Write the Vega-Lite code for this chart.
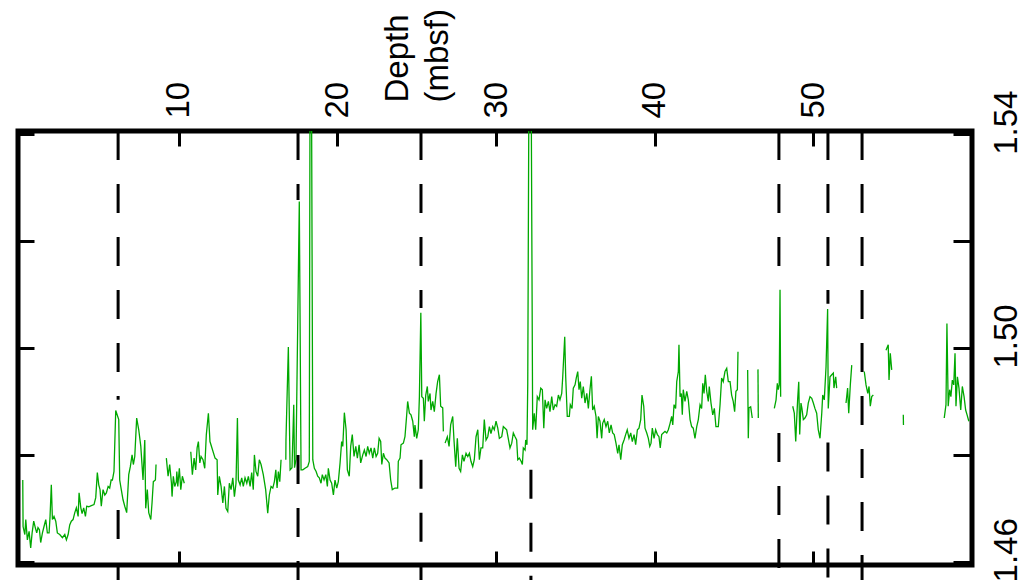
{
  "$schema": "https://vega.github.io/schema/vega-lite/v6.json",
  "width": 954,
  "height": 434,
  "autosize": {"type": "none"},
  "padding": {"left": 18, "top": 131, "right": 46, "bottom": 15},
  "background": "white",
  "config": {
    "view": {"stroke": "black", "strokeWidth": 5},
    "axis": {"labelFont": "Liberation Sans", "titleFont": "Liberation Sans", "labelColor": "black", "titleColor": "black", "tickColor": "black", "domain": false, "grid": false, "labelFontSize": 33, "titleFontSize": 33, "titleFontWeight": "normal", "tickWidth": 3}
  },
  "datasets": {
    "bounds": [
      {"depth": 6.18, "top": 1.5406, "bottom": 1.4903},
      {"depth": 17.52, "top": 1.5406, "bottom": 1.5277},
      {"depth": 25.27, "top": 1.5406, "bottom": 1.5075},
      {"depth": 47.83, "top": 1.5406, "bottom": 1.5109},
      {"depth": 50.92, "top": 1.5406, "bottom": 1.5083},
      {"depth": 53.07, "top": 1.5406, "bottom": 1.4566},
      {"depth": 6.18, "top": 1.4697, "bottom": 1.4566},
      {"depth": 17.52, "top": 1.4800, "bottom": 1.4566},
      {"depth": 25.27, "top": 1.4791, "bottom": 1.4566},
      {"depth": 32.2, "top": 1.4772, "bottom": 1.4566},
      {"depth": 47.83, "top": 1.4841, "bottom": 1.4566},
      {"depth": 50.92, "top": 1.4823, "bottom": 1.4566}
    ],
    "log": [
      {"d":0.17,"v":1.4753,"s":1},{"d":0.19,"v":1.4666,"s":1},{"d":0.30,"v":1.4651,"s":1},{"d":0.36,"v":1.4679,"s":1},{"d":0.46,"v":1.4641,"s":1},{"d":0.57,"v":1.4657,"s":1},{"d":0.67,"v":1.4626,"s":1},{"d":0.76,"v":1.4654,"s":1},{"d":0.86,"v":1.4676,"s":1},{"d":0.96,"v":1.4664,"s":1},{"d":1.05,"v":1.4654,"s":1},{"d":1.13,"v":1.4664,"s":1},{"d":1.22,"v":1.4660,"s":1},{"d":1.30,"v":1.4636,"s":1},{"d":1.41,"v":1.4654,"s":1},{"d":1.51,"v":1.4666,"s":1},{"d":1.62,"v":1.4679,"s":1},{"d":1.72,"v":1.4654,"s":1},{"d":1.83,"v":1.4654,"s":1},{"d":1.89,"v":1.4685,"s":1},{"d":1.97,"v":1.4744,"s":1},{"d":2.04,"v":1.4679,"s":1},{"d":2.14,"v":1.4685,"s":1},{"d":2.25,"v":1.4676,"s":1},{"d":2.35,"v":1.4654,"s":1},{"d":2.50,"v":1.4651,"s":1},{"d":2.67,"v":1.4645,"s":1},{"d":2.82,"v":1.4651,"s":1},{"d":2.92,"v":1.4641,"s":1},{"d":3.03,"v":1.4651,"s":1},{"d":3.13,"v":1.4669,"s":1},{"d":3.23,"v":1.4676,"s":1},{"d":3.34,"v":1.4679,"s":1},{"d":3.45,"v":1.4692,"s":1},{"d":3.55,"v":1.4701,"s":1},{"d":3.66,"v":1.4685,"s":1},{"d":3.72,"v":1.4729,"s":1},{"d":3.83,"v":1.4701,"s":1},{"d":3.91,"v":1.4690,"s":1},{"d":4.01,"v":1.4701,"s":1},{"d":4.12,"v":1.4685,"s":1},{"d":4.20,"v":1.4704,"s":1},{"d":4.33,"v":1.4703,"s":1},{"d":4.49,"v":1.4705,"s":1},{"d":4.66,"v":1.4707,"s":1},{"d":4.77,"v":1.4720,"s":1},{"d":4.87,"v":1.4767,"s":1},{"d":4.96,"v":1.4744,"s":1},{"d":5.04,"v":1.4735,"s":1},{"d":5.12,"v":1.4704,"s":1},{"d":5.23,"v":1.4735,"s":1},{"d":5.34,"v":1.4725,"s":1},{"d":5.44,"v":1.4729,"s":1},{"d":5.55,"v":1.4741,"s":1},{"d":5.65,"v":1.4738,"s":1},{"d":5.74,"v":1.4753,"s":1},{"d":5.82,"v":1.4753,"s":1},{"d":5.92,"v":1.4769,"s":1},{"d":6.03,"v":1.4883,"s":1},{"d":6.22,"v":1.4866,"s":1},{"d":6.28,"v":1.4753,"s":1},{"d":6.38,"v":1.4735,"s":1},{"d":6.49,"v":1.4716,"s":1},{"d":6.60,"v":1.4704,"s":1},{"d":6.72,"v":1.4692,"s":1},{"d":6.85,"v":1.4763,"s":1},{"d":6.95,"v":1.4778,"s":1},{"d":7.06,"v":1.4800,"s":1},{"d":7.14,"v":1.4782,"s":1},{"d":7.23,"v":1.4797,"s":1},{"d":7.35,"v":1.4869,"s":1},{"d":7.48,"v":1.4847,"s":1},{"d":7.61,"v":1.4816,"s":1},{"d":7.75,"v":1.4753,"s":1},{"d":7.86,"v":1.4828,"s":1},{"d":7.92,"v":1.4700,"s":1},{"d":8.02,"v":1.4735,"s":1},{"d":8.11,"v":1.4692,"s":1},{"d":8.24,"v":1.4679,"s":1},{"d":8.32,"v":1.4711,"s":1},{"d":8.40,"v":1.4750,"s":1},{"d":8.53,"v":1.4753,"s":1},{"d":8.57,"v":1.4782,"s":1},
      {"d":9.22,"v":1.4794,"s":2},{"d":9.33,"v":1.4760,"s":2},{"d":9.43,"v":1.4782,"s":2},{"d":9.54,"v":1.4748,"s":2},{"d":9.58,"v":1.4722,"s":2},{"d":9.66,"v":1.4760,"s":2},{"d":9.75,"v":1.4741,"s":2},{"d":9.85,"v":1.4750,"s":2},{"d":9.88,"v":1.4769,"s":2},{"d":9.94,"v":1.4741,"s":2},{"d":10.04,"v":1.4775,"s":2},{"d":10.13,"v":1.4735,"s":2},{"d":10.23,"v":1.4760,"s":2},{"d":10.35,"v":1.4747,"s":2},
      {"d":10.76,"v":1.4806,"s":3},{"d":10.86,"v":1.4763,"s":3},{"d":10.97,"v":1.4794,"s":3},{"d":11.07,"v":1.4772,"s":3},{"d":11.16,"v":1.4813,"s":3},{"d":11.24,"v":1.4825,"s":3},{"d":11.33,"v":1.4785,"s":3},{"d":11.41,"v":1.4797,"s":3},{"d":11.53,"v":1.4791,"s":3},{"d":11.64,"v":1.4775,"s":3},{"d":11.74,"v":1.4838,"s":3},{"d":11.87,"v":1.4878,"s":3},{"d":11.97,"v":1.4825,"s":3},{"d":12.29,"v":1.4794,"s":3},{"d":12.42,"v":1.4791,"s":3},{"d":12.46,"v":1.4725,"s":3},{"d":12.56,"v":1.4760,"s":3},{"d":12.67,"v":1.4741,"s":3},{"d":12.78,"v":1.4710,"s":3},{"d":12.88,"v":1.4741,"s":3},{"d":12.98,"v":1.4700,"s":3},{"d":13.09,"v":1.4694,"s":3},{"d":13.19,"v":1.4747,"s":3},{"d":13.30,"v":1.4735,"s":3},{"d":13.41,"v":1.4757,"s":3},{"d":13.51,"v":1.4722,"s":3},{"d":13.61,"v":1.4747,"s":3},{"d":13.70,"v":1.4869,"s":3},{"d":13.76,"v":1.4753,"s":3},{"d":13.87,"v":1.4744,"s":3},{"d":13.97,"v":1.4757,"s":3},{"d":14.07,"v":1.4741,"s":3},{"d":14.18,"v":1.4757,"s":3},{"d":14.29,"v":1.4747,"s":3},{"d":14.39,"v":1.4760,"s":3},{"d":14.50,"v":1.4741,"s":3},{"d":14.60,"v":1.4767,"s":3},{"d":14.70,"v":1.4735,"s":3},{"d":14.77,"v":1.4800,"s":3},{"d":14.87,"v":1.4769,"s":3},{"d":14.98,"v":1.4760,"s":3},{"d":15.08,"v":1.4791,"s":3},{"d":15.19,"v":1.4782,"s":3},{"d":15.33,"v":1.4763,"s":3},{"d":15.48,"v":1.4735,"s":3},{"d":15.61,"v":1.4691,"s":3},{"d":15.71,"v":1.4725,"s":3},{"d":15.82,"v":1.4741,"s":3},{"d":15.93,"v":1.4738,"s":3},{"d":16.03,"v":1.4750,"s":3},{"d":16.12,"v":1.4772,"s":3},{"d":16.20,"v":1.4738,"s":3},{"d":16.28,"v":1.4769,"s":3},{"d":16.37,"v":1.4750,"s":3},{"d":16.45,"v":1.4791,"s":3},
      {"d":16.75,"v":1.4791,"s":4},{"d":16.76,"v":1.4828,"s":4},{"d":16.91,"v":1.5002,"s":4},{"d":17.02,"v":1.4772,"s":4},{"d":17.14,"v":1.4776,"s":4},{"d":17.25,"v":1.4894,"s":4},{"d":17.30,"v":1.4776,"s":4},{"d":17.39,"v":1.4791,"s":4},{"d":17.60,"v":1.5274,"s":4},{"d":17.71,"v":1.4772,"s":4},{"d":17.82,"v":1.4772,"s":4},{"d":17.96,"v":1.4775,"s":4},{"d":18.13,"v":1.4778,"s":4},{"d":18.23,"v":1.4788,"s":4},{"d":18.31,"v":1.6,"s":4},{"d":18.45,"v":1.4791,"s":4},{"d":18.55,"v":1.4775,"s":4},{"d":18.66,"v":1.4769,"s":4},{"d":18.76,"v":1.4760,"s":4},{"d":18.86,"v":1.4757,"s":4},{"d":18.97,"v":1.4747,"s":4},{"d":19.05,"v":1.4763,"s":4},{"d":19.16,"v":1.4753,"s":4},{"d":19.27,"v":1.4763,"s":4},{"d":19.37,"v":1.4741,"s":4},{"d":19.43,"v":1.4775,"s":4},{"d":19.54,"v":1.4753,"s":4},{"d":19.64,"v":1.4747,"s":4},{"d":19.75,"v":1.4725,"s":4},{"d":19.85,"v":1.4753,"s":4},{"d":19.96,"v":1.4738,"s":4},{"d":20.06,"v":1.4750,"s":4},{"d":20.17,"v":1.4785,"s":4},{"d":20.27,"v":1.4825,"s":4},{"d":20.34,"v":1.4816,"s":4},{"d":20.44,"v":1.4879,"s":4},{"d":20.55,"v":1.4847,"s":4},{"d":20.63,"v":1.4772,"s":4},{"d":20.75,"v":1.4760,"s":4},{"d":20.84,"v":1.4816,"s":4},{"d":20.94,"v":1.4838,"s":4},{"d":21.05,"v":1.4797,"s":4},{"d":21.16,"v":1.4816,"s":4},{"d":21.26,"v":1.4794,"s":4},{"d":21.37,"v":1.4819,"s":4},{"d":21.47,"v":1.4785,"s":4},{"d":21.60,"v":1.4800,"s":4},{"d":21.70,"v":1.4809,"s":4},{"d":21.81,"v":1.4797,"s":4},{"d":21.91,"v":1.4816,"s":4},{"d":22.01,"v":1.4803,"s":4},{"d":22.12,"v":1.4813,"s":4},{"d":22.23,"v":1.4794,"s":4},{"d":22.33,"v":1.4813,"s":4},{"d":22.44,"v":1.4797,"s":4},{"d":22.54,"v":1.4803,"s":4},{"d":22.63,"v":1.4831,"s":4},{"d":22.73,"v":1.4825,"s":4},{"d":22.80,"v":1.4782,"s":4},{"d":22.90,"v":1.4803,"s":4},{"d":23.00,"v":1.4794,"s":4},{"d":23.11,"v":1.4791,"s":4},{"d":23.26,"v":1.4785,"s":4},{"d":23.36,"v":1.4753,"s":4},{"d":23.46,"v":1.4735,"s":4},{"d":23.63,"v":1.4738,"s":4},{"d":23.80,"v":1.4738,"s":4},{"d":23.84,"v":1.4788,"s":4},{"d":23.95,"v":1.4794,"s":4},{"d":24.01,"v":1.4819,"s":4},{"d":24.16,"v":1.4822,"s":4},{"d":24.26,"v":1.4834,"s":4},{"d":24.37,"v":1.4875,"s":4},{"d":24.43,"v":1.4900,"s":4},{"d":24.54,"v":1.4878,"s":4},{"d":24.64,"v":1.4875,"s":4},{"d":24.75,"v":1.4863,"s":4},{"d":24.85,"v":1.4834,"s":4},{"d":24.89,"v":1.4856,"s":4},{"d":25.00,"v":1.4831,"s":4},{"d":25.10,"v":1.4847,"s":4},{"d":25.17,"v":1.4909,"s":4},{"d":25.26,"v":1.5066,"s":4},{"d":25.32,"v":1.4909,"s":4},{"d":25.42,"v":1.4906,"s":4},{"d":25.48,"v":1.4863,"s":4},{"d":25.57,"v":1.4912,"s":4},{"d":25.67,"v":1.4928,"s":4},{"d":25.73,"v":1.4900,"s":4},{"d":25.84,"v":1.4915,"s":4},{"d":25.90,"v":1.4884,"s":4},{"d":26.01,"v":1.4900,"s":4},{"d":26.11,"v":1.4881,"s":4},{"d":26.22,"v":1.4915,"s":4},{"d":26.32,"v":1.4937,"s":4},{"d":26.43,"v":1.4950,"s":4},{"d":26.51,"v":1.4891,"s":4},{"d":26.64,"v":1.4888,"s":4},{"d":26.68,"v":1.4844,"s":4},
      {"d":26.79,"v":1.4822,"s":5},{"d":26.93,"v":1.4834,"s":5},{"d":27.04,"v":1.4816,"s":5},{"d":27.14,"v":1.4856,"s":5},{"d":27.27,"v":1.4872,"s":5},{"d":27.35,"v":1.4828,"s":5},{"d":27.46,"v":1.4778,"s":5},{"d":27.56,"v":1.4831,"s":5},{"d":27.67,"v":1.4775,"s":5},{"d":27.77,"v":1.4769,"s":5},{"d":27.88,"v":1.4800,"s":5},{"d":27.98,"v":1.4788,"s":5},{"d":28.11,"v":1.4803,"s":5},{"d":28.22,"v":1.4797,"s":5},{"d":28.32,"v":1.4803,"s":5},{"d":28.42,"v":1.4788,"s":5},{"d":28.53,"v":1.4778,"s":5},{"d":28.63,"v":1.4791,"s":5},{"d":28.74,"v":1.4834,"s":5},{"d":28.85,"v":1.4847,"s":5},{"d":28.95,"v":1.4791,"s":5},{"d":29.05,"v":1.4813,"s":5},{"d":29.16,"v":1.4813,"s":5},{"d":29.26,"v":1.4866,"s":5},{"d":29.37,"v":1.4828,"s":5},{"d":29.48,"v":1.4834,"s":5},{"d":29.58,"v":1.4853,"s":5},{"d":29.68,"v":1.4840,"s":5},{"d":29.79,"v":1.4853,"s":5},{"d":29.89,"v":1.4847,"s":5},{"d":30.00,"v":1.4863,"s":5},{"d":30.11,"v":1.4850,"s":5},{"d":30.21,"v":1.4831,"s":5},{"d":30.36,"v":1.4834,"s":5},{"d":30.46,"v":1.4853,"s":5},{"d":30.57,"v":1.4850,"s":5},{"d":30.67,"v":1.4847,"s":5},{"d":30.77,"v":1.4831,"s":5},{"d":30.88,"v":1.4813,"s":5},{"d":30.99,"v":1.4822,"s":5},{"d":31.09,"v":1.4841,"s":5},{"d":31.20,"v":1.4834,"s":5},{"d":31.30,"v":1.4828,"s":5},{"d":31.37,"v":1.4791,"s":5},{"d":31.47,"v":1.4794,"s":5},{"d":31.58,"v":1.4788,"s":5},{"d":31.66,"v":1.4782,"s":5},{"d":31.72,"v":1.4813,"s":5},{"d":31.83,"v":1.4809,"s":5},{"d":31.87,"v":1.4828,"s":5},{"d":31.95,"v":1.4819,"s":5},{"d":32.00,"v":1.4934,"s":5},{"d":32.14,"v":1.6,"s":5},{"d":32.31,"v":1.4847,"s":5},{"d":32.41,"v":1.4878,"s":5},{"d":32.50,"v":1.4847,"s":5},{"d":32.60,"v":1.4909,"s":5},{"d":32.71,"v":1.4903,"s":5},{"d":32.82,"v":1.4925,"s":5},{"d":32.92,"v":1.4922,"s":5},{"d":33.01,"v":1.4850,"s":5},{"d":33.09,"v":1.4903,"s":5},{"d":33.19,"v":1.4887,"s":5},{"d":33.30,"v":1.4900,"s":5},{"d":33.40,"v":1.4881,"s":5},{"d":33.51,"v":1.4909,"s":5},{"d":33.61,"v":1.4884,"s":5},{"d":33.72,"v":1.4894,"s":5},{"d":33.82,"v":1.4891,"s":5},{"d":33.93,"v":1.4912,"s":5},{"d":34.03,"v":1.4903,"s":5},{"d":34.14,"v":1.4915,"s":5},{"d":34.20,"v":1.4944,"s":5},{"d":34.33,"v":1.5021,"s":5},{"d":34.39,"v":1.4947,"s":5},{"d":34.49,"v":1.4872,"s":5},{"d":34.62,"v":1.4872,"s":5},{"d":34.68,"v":1.4894,"s":5},{"d":34.79,"v":1.4887,"s":5},{"d":34.87,"v":1.4925,"s":5},{"d":34.98,"v":1.4931,"s":5},{"d":35.06,"v":1.4944,"s":5},{"d":35.15,"v":1.4956,"s":5},{"d":35.23,"v":1.4922,"s":5},{"d":35.31,"v":1.4937,"s":5},{"d":35.40,"v":1.4906,"s":5},{"d":35.50,"v":1.4928,"s":5},{"d":35.61,"v":1.4897,"s":5},{"d":35.72,"v":1.4915,"s":5},{"d":35.82,"v":1.4887,"s":5},{"d":35.92,"v":1.4922,"s":5},{"d":36.01,"v":1.4947,"s":5},{"d":36.09,"v":1.4884,"s":5},{"d":36.19,"v":1.4891,"s":5},{"d":36.30,"v":1.4872,"s":5},{"d":36.37,"v":1.4831,"s":5},{"d":36.45,"v":1.4872,"s":5},{"d":36.55,"v":1.4863,"s":5},{"d":36.66,"v":1.4831,"s":5},{"d":36.72,"v":1.4859,"s":5},{"d":36.82,"v":1.4866,"s":5},{"d":36.93,"v":1.4853,"s":5},{"d":37.04,"v":1.4863,"s":5},{"d":37.14,"v":1.4841,"s":5},{"d":37.25,"v":1.4856,"s":5},{"d":37.35,"v":1.4841,"s":5},{"d":37.45,"v":1.4838,"s":5},{"d":37.56,"v":1.4822,"s":5},{"d":37.67,"v":1.4803,"s":5},{"d":37.75,"v":1.4819,"s":5},{"d":37.86,"v":1.4791,"s":5},{"d":37.96,"v":1.4819,"s":5},{"d":38.07,"v":1.4828,"s":5},{"d":38.17,"v":1.4838,"s":5},{"d":38.27,"v":1.4847,"s":5},{"d":38.38,"v":1.4831,"s":5},{"d":38.49,"v":1.4841,"s":5},{"d":38.59,"v":1.4825,"s":5},{"d":38.70,"v":1.4838,"s":5},{"d":38.80,"v":1.4819,"s":5},{"d":38.91,"v":1.4847,"s":5},{"d":39.01,"v":1.4850,"s":5},{"d":39.12,"v":1.4866,"s":5},{"d":39.20,"v":1.4912,"s":5},{"d":39.31,"v":1.4891,"s":5},{"d":39.39,"v":1.4850,"s":5},{"d":39.50,"v":1.4841,"s":5},{"d":39.60,"v":1.4831,"s":5},{"d":39.69,"v":1.4816,"s":5},{"d":39.77,"v":1.4822,"s":5},{"d":39.85,"v":1.4850,"s":5},{"d":39.96,"v":1.4831,"s":5},{"d":40.06,"v":1.4847,"s":5},{"d":40.17,"v":1.4838,"s":5},{"d":40.27,"v":1.4834,"s":5},{"d":40.35,"v":1.4813,"s":5},{"d":40.44,"v":1.4838,"s":5},{"d":40.54,"v":1.4841,"s":5},{"d":40.65,"v":1.4844,"s":5},{"d":40.76,"v":1.4841,"s":5},{"d":40.86,"v":1.4847,"s":5},{"d":40.97,"v":1.4859,"s":5},{"d":41.07,"v":1.4872,"s":5},{"d":41.14,"v":1.4856,"s":5},{"d":41.22,"v":1.4894,"s":5},{"d":41.32,"v":1.4887,"s":5},{"d":41.39,"v":1.4937,"s":5},{"d":41.49,"v":1.4956,"s":5},{"d":41.53,"v":1.5006,"s":5},{"d":41.60,"v":1.4909,"s":5},{"d":41.68,"v":1.4915,"s":5},{"d":41.74,"v":1.4875,"s":5},{"d":41.80,"v":1.4922,"s":5},{"d":41.91,"v":1.4900,"s":5},{"d":42.02,"v":1.4919,"s":5},{"d":42.12,"v":1.4903,"s":5},{"d":42.23,"v":1.4866,"s":5},{"d":42.33,"v":1.4853,"s":5},{"d":42.43,"v":1.4850,"s":5},{"d":42.54,"v":1.4831,"s":5},{"d":42.65,"v":1.4853,"s":5},{"d":42.75,"v":1.4866,"s":5},{"d":42.86,"v":1.4894,"s":5},{"d":42.96,"v":1.4887,"s":5},{"d":43.03,"v":1.4934,"s":5},{"d":43.11,"v":1.4915,"s":5},{"d":43.19,"v":1.4950,"s":5},{"d":43.28,"v":1.4919,"s":5},{"d":43.38,"v":1.4900,"s":5},{"d":43.44,"v":1.4928,"s":5},{"d":43.55,"v":1.4897,"s":5},{"d":43.66,"v":1.4875,"s":5},{"d":43.76,"v":1.4887,"s":5},{"d":43.86,"v":1.4853,"s":5},{"d":44.01,"v":1.4853,"s":5},{"d":44.12,"v":1.4894,"s":5},{"d":44.22,"v":1.4944,"s":5},{"d":44.32,"v":1.4937,"s":5},{"d":44.43,"v":1.4956,"s":5},{"d":44.54,"v":1.4962,"s":5},{"d":44.64,"v":1.4937,"s":5},{"d":44.75,"v":1.4937,"s":5},{"d":44.85,"v":1.4912,"s":5},{"d":44.95,"v":1.4900,"s":5},{"d":45.04,"v":1.4881,"s":5},{"d":45.12,"v":1.4919,"s":5},{"d":45.21,"v":1.4922,"s":5},{"d":45.25,"v":1.4993,"s":5},
      {"d":45.86,"v":1.4959,"s":6},{"d":45.90,"v":1.4831,"s":6},{"d":45.94,"v":1.4888,"s":6},{"d":46.05,"v":1.4890,"s":6},{"d":46.15,"v":1.4869,"s":6},
      {"d":46.51,"v":1.4960,"s":7},{"d":46.53,"v":1.4869,"s":7},
      {"d":47.54,"v":1.4887,"s":8},{"d":47.65,"v":1.4903,"s":8},{"d":47.73,"v":1.4934,"s":8},{"d":47.79,"v":1.4922,"s":8},{"d":47.85,"v":1.4931,"s":8},{"d":47.90,"v":1.5109,"s":8},{"d":47.94,"v":1.4909,"s":8},
      {"d":48.70,"v":1.4891,"s":9},{"d":48.80,"v":1.4878,"s":9},{"d":48.89,"v":1.4825,"s":9},{"d":48.95,"v":1.4866,"s":9},{"d":49.01,"v":1.4903,"s":9},{"d":49.08,"v":1.4937,"s":9},{"d":49.14,"v":1.4838,"s":9},{"d":49.22,"v":1.4897,"s":9},{"d":49.28,"v":1.4887,"s":9},{"d":49.37,"v":1.4866,"s":9},{"d":49.47,"v":1.4869,"s":9},{"d":49.58,"v":1.4875,"s":9},{"d":49.68,"v":1.4897,"s":9},{"d":49.79,"v":1.4909,"s":9},{"d":49.90,"v":1.4906,"s":9},{"d":50.00,"v":1.4897,"s":9},{"d":50.10,"v":1.4887,"s":9},{"d":50.21,"v":1.4878,"s":9},{"d":50.31,"v":1.4847,"s":9},{"d":50.42,"v":1.4831,"s":9},{"d":50.53,"v":1.4878,"s":9},{"d":50.59,"v":1.4912,"s":9},{"d":50.69,"v":1.4903,"s":9},{"d":50.80,"v":1.4965,"s":9},{"d":50.90,"v":1.5073,"s":9},{"d":50.94,"v":1.4887,"s":9},{"d":51.05,"v":1.4946,"s":9},{"d":51.16,"v":1.4950,"s":9},{"d":51.26,"v":1.4953,"s":9},{"d":51.30,"v":1.4925,"s":9},{"d":51.41,"v":1.4946,"s":9},{"d":51.47,"v":1.4925,"s":9},
      {"d":52.06,"v":1.4897,"s":10},{"d":52.16,"v":1.4925,"s":10},{"d":52.23,"v":1.4878,"s":10},{"d":52.33,"v":1.4931,"s":10},{"d":52.42,"v":1.4968,"s":10},
      {"d":53.21,"v":1.4956,"s":11},{"d":53.32,"v":1.4931,"s":11},{"d":53.43,"v":1.4915,"s":11},{"d":53.51,"v":1.4928,"s":11},{"d":53.59,"v":1.4891,"s":11},{"d":53.68,"v":1.4909,"s":11},{"d":53.78,"v":1.4912,"s":11},
      {"d":54.58,"v":1.4996,"s":12},{"d":54.72,"v":1.5006,"s":12},{"d":54.77,"v":1.4940,"s":12},{"d":54.85,"v":1.4990,"s":12},{"d":54.94,"v":1.4959,"s":12},
      {"d":55.67,"v":1.4875,"s":13},{"d":55.68,"v":1.4856,"s":13},
      {"d":58.25,"v":1.4869,"s":14},{"d":58.36,"v":1.4894,"s":14},{"d":58.42,"v":1.5046,"s":14},{"d":58.50,"v":1.4891,"s":14},{"d":58.59,"v":1.4922,"s":14},{"d":58.67,"v":1.4909,"s":14},{"d":58.76,"v":1.4940,"s":14},{"d":58.85,"v":1.4931,"s":14},{"d":58.93,"v":1.4990,"s":14},{"d":58.99,"v":1.4891,"s":14},{"d":59.08,"v":1.4946,"s":14},{"d":59.18,"v":1.4925,"s":14},{"d":59.29,"v":1.4884,"s":14},{"d":59.39,"v":1.4928,"s":14},{"d":59.50,"v":1.4909,"s":14},{"d":59.60,"v":1.4884,"s":14},{"d":59.69,"v":1.4875,"s":14},{"d":59.80,"v":1.4863,"s":14}
    ]
  },
  "layer": [
    {
      "data": {"name": "log"},
      "mark": {"type": "line", "color": "#00a800", "strokeWidth": 1.3, "clip": true, "interpolate": "linear"},
      "encoding": {
        "x": {"field": "d", "type": "quantitative", "scale": {"domain": [-0.13, 60.0], "nice": false, "zero": false},
              "axis": {"orient": "bottom", "values": [10, 20, 30, 40, 50], "labels": false, "title": null, "tickSize": -14}},
        "y": {"field": "v", "type": "quantitative", "scale": {"domain": [1.4594, 1.5406], "nice": false, "zero": false},
              "axis": {"orient": "left", "values": [1.46, 1.48, 1.5, 1.52, 1.54], "labels": false, "title": null, "tickSize": -16}},
        "detail": {"field": "s", "type": "nominal"},
        "order": {"field": "d", "type": "quantitative"}
      }
    },
    {
      "data": {"name": "bounds"},
      "mark": {"type": "rule", "color": "black", "strokeWidth": 3, "strokeDash": [29, 24], "clip": false},
      "encoding": {
        "x": {"field": "depth", "type": "quantitative",
              "axis": {"orient": "top", "values": [10, 20, 30, 40, 50], "tickSize": -15, "labelPadding": 28, "labelAngle": -90, "labelAlign": "left", "labelBaseline": "middle", "labelFlush": false, "labelOverlap": false,
                       "title": ["Depth", "(mbsf)"], "titleAngle": -90, "titleAlign": "left", "titleBaseline": "alphabetic", "titleX": 389, "titleY": -29, "titleLineHeight": 40}},
        "y": {"field": "top", "type": "quantitative",
              "axis": {"orient": "right", "values": [1.46, 1.48, 1.5, 1.52, 1.54], "tickSize": -19, "labelPadding": 37, "labelAngle": -90, "labelAlign": "center", "labelBaseline": "top", "labelOffset": -12, "labelFlush": false, "labelOverlap": false, "title": null,
                       "labelExpr": "abs(datum.value - 1.48) < 0.001 || abs(datum.value - 1.52) < 0.001 ? '' : format(datum.value, '.2f')"}},
        "y2": {"field": "bottom"}
      }
    }
  ],
  "resolve": {"axis": {"x": "independent", "y": "independent"}}
}
